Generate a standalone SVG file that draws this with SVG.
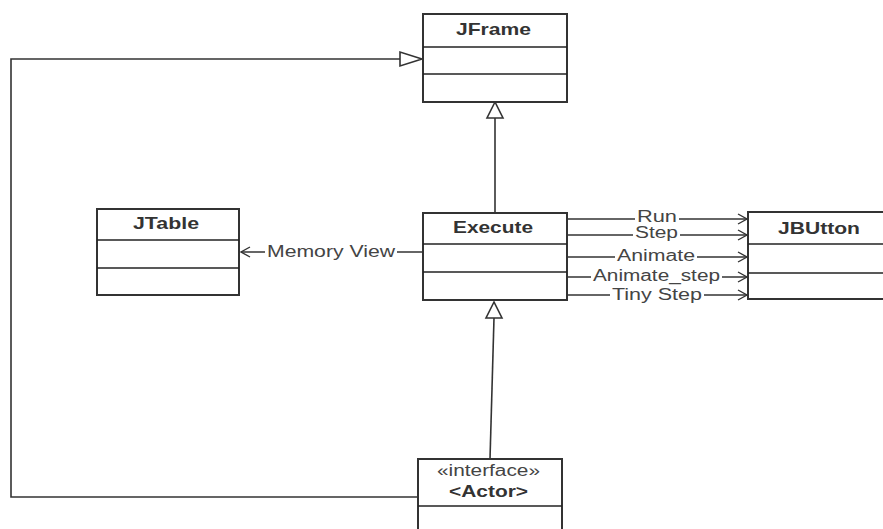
<svg xmlns="http://www.w3.org/2000/svg" width="883" height="529" viewBox="0 0 883 529">
<defs>
<style>
.box{fill:#fff;stroke:#333;stroke-width:2}
.div{stroke:#222;stroke-width:1.6}
.ln{fill:none;stroke:#333;stroke-width:1.6}
.tri{fill:#fff;stroke:#333;stroke-width:1.6}
.t{font-family:"Liberation Sans",Arial,sans-serif;font-weight:bold;font-size:17px;fill:#333;text-anchor:start}
.l{font-family:"Liberation Sans",Arial,sans-serif;font-size:16px;fill:#444}
.bg{fill:#fff}
</style>
<marker id="open" markerWidth="12" markerHeight="12" refX="10" refY="6" orient="auto" markerUnits="userSpaceOnUse">
<path d="M1,1 L10,6 L1,11" fill="none" stroke="#333" stroke-width="1.4"/>
</marker>
</defs>
<rect width="883" height="529" fill="#fff"/>

<g id="connectors">
<!-- Execute to JFrame -->
<line class="ln" x1="495" y1="213" x2="495" y2="118"/>
<polygon class="tri" points="495,102 487,118 503,118"/>
<!-- Actor to Execute -->
<line class="ln" x1="490" y1="459" x2="494" y2="318"/>
<polygon class="tri" points="494,302 486,318 502,318"/>
<!-- Actor to JFrame -->
<polyline class="ln" points="418,497 11,497 11,59 400,59"/>
<polygon class="tri" points="422,59 400,52 400,66"/>
<!-- Memory View -->
<line class="ln" x1="423" y1="252" x2="241" y2="252" marker-end="url(#open)"/>
<!-- Execute to JBUtton -->
<line class="ln" x1="567" y1="219" x2="747" y2="219" marker-end="url(#open)"/>
<line class="ln" x1="567" y1="235" x2="747" y2="235" marker-end="url(#open)"/>
<line class="ln" x1="567" y1="257" x2="747" y2="257" marker-end="url(#open)"/>
<line class="ln" x1="567" y1="277" x2="747" y2="277" marker-end="url(#open)"/>
<line class="ln" x1="567" y1="295" x2="747" y2="295" marker-end="url(#open)"/>
<!-- label backgrounds -->
<rect class="bg" x="265" y="244" width="132" height="16"/>
<rect class="bg" x="635" y="211" width="44" height="14"/>
<rect class="bg" x="633" y="228" width="47" height="12"/>
<rect class="bg" x="615" y="249" width="82" height="14"/>
<rect class="bg" x="591" y="269" width="131" height="14"/>
<rect class="bg" x="610" y="287" width="94" height="16"/>
<text class="l" x="267" y="257" textLength="128" lengthAdjust="spacingAndGlyphs">Memory View</text>
<text class="l" x="637" y="222" textLength="40" lengthAdjust="spacingAndGlyphs">Run</text>
<text class="l" x="635" y="238" textLength="43" lengthAdjust="spacingAndGlyphs">Step</text>
<text class="l" x="617" y="261" textLength="78" lengthAdjust="spacingAndGlyphs">Animate</text>
<text class="l" x="593" y="281" textLength="127" lengthAdjust="spacingAndGlyphs">Animate_step</text>
<text class="l" x="612" y="300" textLength="90" lengthAdjust="spacingAndGlyphs">Tiny Step</text>
</g>

<g id="JFrame">
<rect class="box" x="423" y="14" width="144" height="88"/>
<line class="div" x1="423" y1="47" x2="567" y2="47"/>
<line class="div" x1="423" y1="74" x2="567" y2="74"/>
<text class="t" x="456" y="35" textLength="75" lengthAdjust="spacingAndGlyphs">JFrame</text>
</g>

<g id="Execute">
<rect class="box" x="423" y="213" width="144" height="87"/>
<line class="div" x1="423" y1="244" x2="567" y2="244"/>
<line class="div" x1="423" y1="272" x2="567" y2="272"/>
<text class="t" x="453" y="233" textLength="80" lengthAdjust="spacingAndGlyphs">Execute</text>
</g>

<g id="JTable">
<rect class="box" x="97" y="209" width="142" height="86"/>
<line class="div" x1="97" y1="240" x2="239" y2="240"/>
<line class="div" x1="97" y1="268" x2="239" y2="268"/>
<text class="t" x="133" y="229" textLength="66" lengthAdjust="spacingAndGlyphs">JTable</text>
</g>

<g id="JBUtton">
<rect class="box" x="748" y="212" width="145" height="87"/>
<line class="div" x1="748" y1="244" x2="883" y2="244"/>
<line class="div" x1="748" y1="273" x2="883" y2="273"/>
<text class="t" x="778" y="234" textLength="82" lengthAdjust="spacingAndGlyphs">JBUtton</text>
</g>

<g id="Actor">
<rect class="box" x="418" y="459" width="144" height="80"/>
<line class="div" x1="418" y1="506" x2="562" y2="506"/>
<text class="l" x="437" y="476" textLength="103" lengthAdjust="spacingAndGlyphs" style="fill:#444">«interface»</text>
<text class="t" x="449" y="497" textLength="79" lengthAdjust="spacingAndGlyphs">&lt;Actor&gt;</text>
</g>
</svg>
